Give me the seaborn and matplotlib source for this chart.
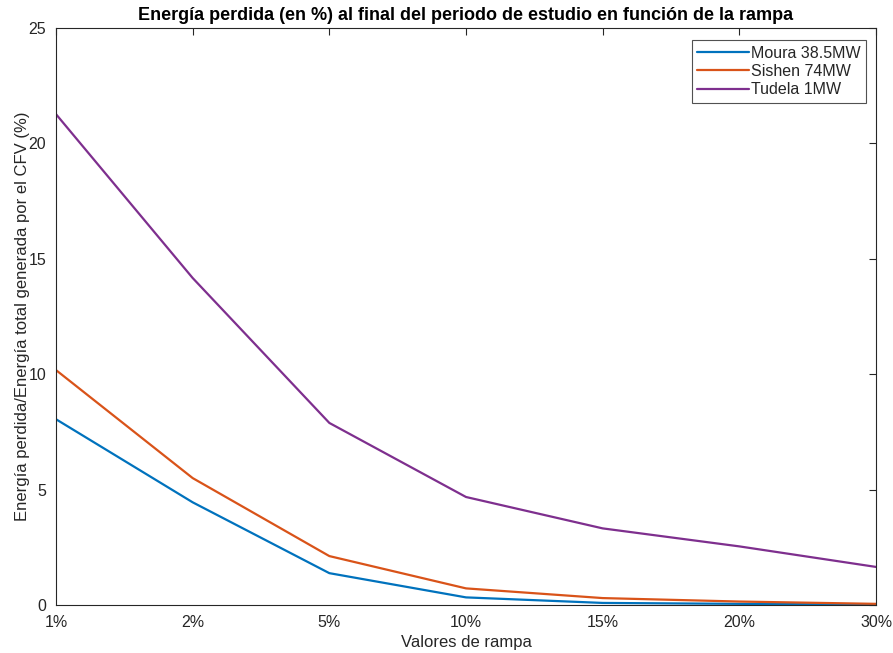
import numpy as np
import pandas as pd
import seaborn as sns
import matplotlib.pyplot as plt

rampa = ["1%", "2%", "5%", "10%", "15%", "20%", "30%"]
moura = [8.05, 4.45, 1.38, 0.33, 0.09, 0.05, 0.02]
sishen = [10.18, 5.5, 2.12, 0.72, 0.3, 0.15, 0.05]
tudela = [21.27, 14.17, 7.89, 4.68, 3.32, 2.54, 1.65]
series = ["Moura 38.5MW", "Sishen 74MW", "Tudela 1MW"]
colores = ["#0072BD", "#D95319", "#7E2F8E"]

df = pd.DataFrame({
    "rampa": rampa * 3,
    "pos": list(range(len(rampa))) * 3,
    "valor": moura + sishen + tudela,
    "serie": [s for s in series for _ in rampa],
})

sns.set_theme(style="white")
plt.rcParams['font.family'] = ['Liberation Sans', 'DejaVu Sans']

fig = plt.figure(figsize=(8.93, 6.53), dpi=100)
ax = fig.add_axes([0.0627, 0.0735, 0.9183, 0.8835])
sns.lineplot(data=df, x="pos", y="valor", hue="serie", palette=colores, linewidth=1.6, ax=ax)

ax.set_xlim(0, len(rampa) - 1)
ax.set_ylim(0, 25)
ax.set_xticks(range(len(rampa)))
ax.set_xticklabels(rampa)
ax.set_yticks([0, 5, 10, 15, 20, 25])
ax.tick_params(direction="in", top=True, right=True, length=5, width=0.8, colors="#262626",
               labelsize=11.5, pad=7)
for s in ax.spines.values():
    s.set_color("#262626")
    s.set_linewidth(0.8)

ax.set_xlabel("Valores de rampa", fontsize=12, color="#262626", labelpad=4)
ax.set_ylabel("Energía perdida/Energía total generada por el CFV (%)", fontsize=12,
              color="#262626", labelpad=-1)
ax.set_title("Energía perdida (en %) al final del periodo de estudio en función de la rampa",
             fontsize=13, fontweight="bold", color="black", pad=6)
leg = ax.legend(loc="upper right", fontsize=11.5, frameon=True, fancybox=False, borderpad=0.35,
                handlelength=3.2, handletextpad=0.15, labelspacing=0.2, borderaxespad=0,
                bbox_to_anchor=(0.988, 0.979))
leg.get_frame().set_edgecolor("#262626")
leg.get_frame().set_linewidth(0.8)

plt.savefig("out.png", dpi=100)
